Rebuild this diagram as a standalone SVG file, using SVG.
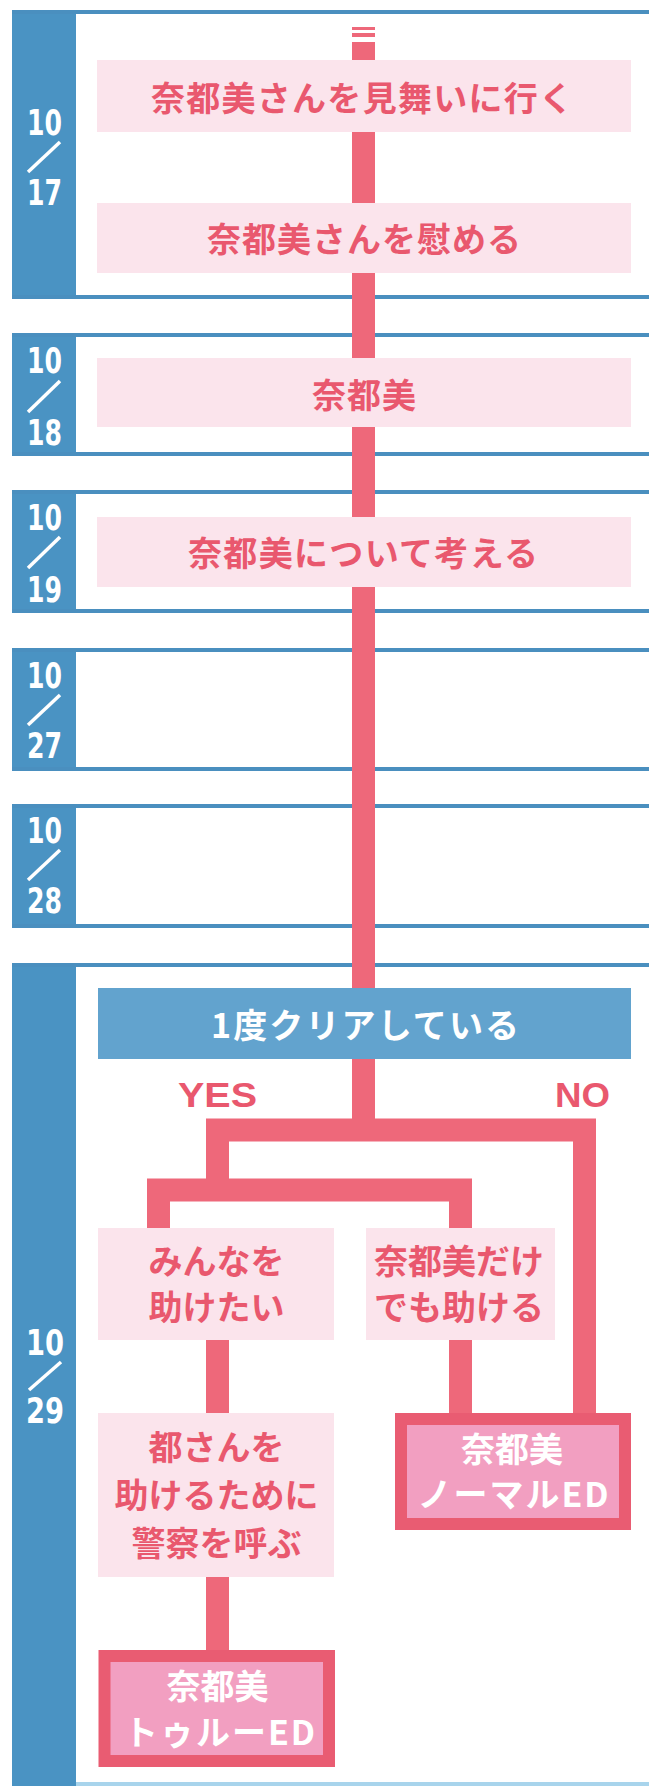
<svg xmlns="http://www.w3.org/2000/svg" width="649" height="1786" viewBox="0 0 649 1786">
<style>
.col{fill:#4a93c3}
.hl{fill:#4a8fbf}
.box{fill:#fbe4ec}
.jt{font-family:"Noto Sans CJK JP","Noto Sans",sans-serif;font-weight:700;font-size:34px;fill:#e9586e;text-anchor:middle}
.wt{fill:#ffffff}
.lat{font-family:"Liberation Sans",Arial,sans-serif;font-weight:700;font-size:35px;fill:#e9586e;text-anchor:middle}
.dt{font-family:"DejaVu Sans",sans-serif;font-weight:700;font-size:36px;fill:#ffffff;text-anchor:middle}
.sl{stroke:#ffffff;stroke-width:3.5}
.con{fill:none;stroke:#ee687a;stroke-width:23;stroke-linejoin:miter}
.ed{fill:#f29fc1;stroke:#e95c72;stroke-width:12}
.dec{fill:#62a3ce}
</style>
<rect width="649" height="1786" fill="#ffffff"/>
<g id="frames">
  <rect class="col" x="12" y="10" width="64" height="289"/>
  <rect class="hl" x="12" y="10" width="637" height="4"/>
  <rect class="hl" x="12" y="295" width="637" height="4"/>
  <rect class="col" x="12" y="333" width="64" height="123"/>
  <rect class="hl" x="12" y="333" width="637" height="4"/>
  <rect class="hl" x="12" y="452" width="637" height="4"/>
  <rect class="col" x="12" y="490" width="64" height="123"/>
  <rect class="hl" x="12" y="490" width="637" height="4"/>
  <rect class="hl" x="12" y="609" width="637" height="4"/>
  <rect class="col" x="12" y="648" width="64" height="123"/>
  <rect class="hl" x="12" y="648" width="637" height="4"/>
  <rect class="hl" x="12" y="767" width="637" height="4"/>
  <rect class="col" x="12" y="804" width="64" height="124"/>
  <rect class="hl" x="12" y="804" width="637" height="4"/>
  <rect class="hl" x="12" y="924" width="637" height="4"/>
  <rect class="col" x="12" y="963" width="64" height="823"/>
  <rect class="hl" x="12" y="963" width="637" height="4"/>
  <rect x="76" y="1782" width="573" height="4" fill="#a8d4ec"/>
</g>
<g id="dates">
  <g id="d1017"><text class="dt" x="44.5" y="135" textLength="35" lengthAdjust="spacingAndGlyphs">10</text><line class="sl" x1="60" y1="142" x2="28" y2="172"/><text class="dt" x="44.5" y="205" textLength="35" lengthAdjust="spacingAndGlyphs">17</text></g>
  <g id="d1018"><text class="dt" x="44.5" y="373" textLength="35" lengthAdjust="spacingAndGlyphs">10</text><line class="sl" x1="60" y1="381" x2="28" y2="412"/><text class="dt" x="44.5" y="445" textLength="35" lengthAdjust="spacingAndGlyphs">18</text></g>
  <g id="d1019"><text class="dt" x="44.5" y="530" textLength="35" lengthAdjust="spacingAndGlyphs">10</text><line class="sl" x1="60" y1="537" x2="28" y2="568"/><text class="dt" x="44.5" y="602" textLength="35" lengthAdjust="spacingAndGlyphs">19</text></g>
  <g id="d1027"><text class="dt" x="44.5" y="688" textLength="35" lengthAdjust="spacingAndGlyphs">10</text><line class="sl" x1="60" y1="695" x2="28" y2="725"/><text class="dt" x="44.5" y="758" textLength="35" lengthAdjust="spacingAndGlyphs">27</text></g>
  <g id="d1028"><text class="dt" x="44.5" y="843" textLength="35" lengthAdjust="spacingAndGlyphs">10</text><line class="sl" x1="60" y1="850" x2="28" y2="880"/><text class="dt" x="44.5" y="913" textLength="35" lengthAdjust="spacingAndGlyphs">28</text></g>
  <g id="d1029"><text class="dt" x="45" y="1355" textLength="38" lengthAdjust="spacingAndGlyphs">10</text><line class="sl" x1="61" y1="1362" x2="29" y2="1390"/><text class="dt" x="45" y="1423" textLength="38" lengthAdjust="spacingAndGlyphs">29</text></g>
</g>
<g id="connectors">
  <rect x="352" y="27" width="23" height="3" fill="#ee687a"/>
  <rect x="352" y="33" width="23" height="4" fill="#ee687a"/>
  <path class="con" d="M363.5 42 V1130"/>
  <path class="con" d="M584.5 1413 V1130 H217.5 V1190"/>
  <path class="con" d="M158.5 1228 V1190 H460.5 V1228"/>
  <path class="con" d="M217.5 1340 V1413"/>
  <path class="con" d="M460.5 1340 V1413"/>
  <path class="con" d="M217.5 1577 V1650"/>
</g>
<g id="n1"><rect class="box" x="97" y="60" width="534" height="72"/><text class="jt" x="362" y="111" textLength="422" lengthAdjust="spacing">奈都美さんを見舞いに行く</text></g>
<g id="n2"><rect class="box" x="97" y="203" width="534" height="70"/><text class="jt" x="364" y="252" textLength="314" lengthAdjust="spacing">奈都美さんを慰める</text></g>
<g id="n3"><rect class="box" x="97" y="358" width="534" height="69"/><text class="jt" x="364" y="408" textLength="104" lengthAdjust="spacing">奈都美</text></g>
<g id="n4"><rect class="box" x="97" y="517" width="534" height="70"/><text class="jt" x="363" y="566" textLength="350" lengthAdjust="spacing">奈都美について考える</text></g>
<g id="decision"><rect class="dec" x="98" y="988" width="533" height="71"/><text class="jt wt" x="365" y="1038" textLength="308" lengthAdjust="spacing">1度クリアしている</text></g>
<g id="lbl-yes"><text class="lat" x="217.5" y="1107" textLength="79" lengthAdjust="spacingAndGlyphs">YES</text></g>
<g id="lbl-no"><text class="lat" x="582.5" y="1107" textLength="55" lengthAdjust="spacingAndGlyphs">NO</text></g>
<g id="n5"><rect class="box" x="98" y="1228" width="236" height="112"/><text class="jt"><tspan x="216.5" y="1274">みんなを</tspan><tspan x="216.5" y="1320">助けたい</tspan></text></g>
<g id="n6"><rect class="box" x="366" y="1228" width="189" height="112"/><text class="jt"><tspan x="459" y="1274">奈都美だけ</tspan><tspan x="459" y="1320">でも助ける</tspan></text></g>
<g id="n7"><rect class="box" x="98" y="1413" width="236" height="164"/><text class="jt"><tspan x="216.5" y="1460">都さんを</tspan><tspan x="216.5" y="1508">助けるために</tspan><tspan x="216.5" y="1556">警察を呼ぶ</tspan></text></g>
<g id="ed-normal"><rect class="ed" x="401" y="1419" width="224" height="105"/><text class="jt wt"><tspan x="512" y="1462">奈都美</tspan><tspan x="514" y="1507" letter-spacing="2">ノーマルED</tspan></text></g>
<g id="ed-true"><rect class="ed" x="104.5" y="1656" width="224.5" height="105"/><text class="jt wt"><tspan x="217.5" y="1699">奈都美</tspan><tspan x="220.5" y="1745" letter-spacing="2">トゥルーED</tspan></text></g>
</svg>
